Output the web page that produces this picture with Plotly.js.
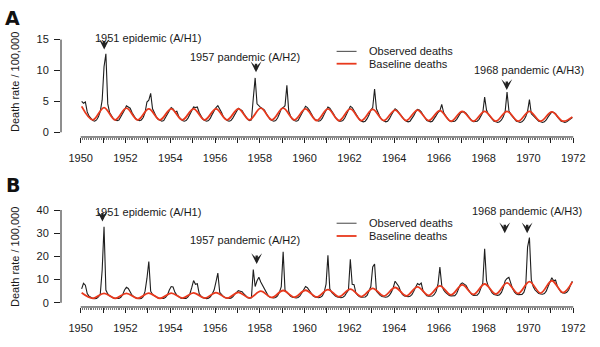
<!DOCTYPE html>
<html><head><meta charset="utf-8">
<script src="https://cdn.plot.ly/plotly-3.0.1.min.js"></script>
<style>html,body{margin:0;padding:0;background:#fff}#chart{width:600px;height:347px}</style>
</head><body><div id="chart"></div>
<script>
// ---- data ----
const years = [1950,1951,1952,1953,1954,1955,1956,1957,1958,1959,1960,1961,1962,1963,1964,1965,1966,1967,1968,1969,1970,1971];
const tickYears = [1950,1951,1952,1953,1954,1955,1956,1957,1958,1959,1960,1961,1962,1963,1964,1965,1966,1967,1968,1969,1970,1971,1972];
const tickLabels = ['1950','','1952','','1954','','1956','','1958','','1960','','1962','','1964','','1966','','1968','','1970','','1972'];

// Panel A – observed monthly death rate (Jan..Dec per year)
const observedA = [
  5.0,4.7,4.9,3.3,2.6,2.2,1.9,1.8,2.0,2.5,3.4,5.2,
  10.6,12.7,4.6,3.2,2.6,2.2,2.0,1.9,2.0,2.5,3.0,3.6,
  4.3,4.1,3.9,3.2,2.6,2.2,2.0,1.9,2.0,2.4,3.2,4.9,
  5.2,6.3,3.8,3.0,2.5,2.1,1.9,1.8,1.9,2.4,3.0,3.6,
  4.0,3.8,3.3,3.4,2.6,2.2,1.9,1.8,1.9,2.3,2.9,3.5,
  4.1,4.0,4.1,3.2,2.6,2.1,1.9,1.8,1.9,2.3,2.9,3.6,
  4.0,4.3,3.8,3.2,2.5,2.1,1.9,1.8,1.9,2.3,2.9,3.5,
  3.9,3.7,3.5,3.0,2.5,2.1,1.9,2.0,5.5,8.8,4.6,4.2,
  4.0,3.8,3.6,3.0,2.5,2.1,1.9,1.8,1.9,2.3,3.0,3.8,
  4.0,4.3,7.6,3.4,2.6,2.1,1.9,1.8,1.9,2.4,3.0,3.6,
  4.2,4.0,3.6,3.0,2.5,2.1,1.9,1.8,1.9,2.3,2.9,3.6,
  4.1,3.9,3.5,3.0,2.4,2.0,1.8,1.8,1.9,2.3,2.9,3.6,
  4.2,4.0,3.5,2.9,2.4,2.0,1.8,1.7,1.8,2.2,2.8,3.6,
  4.0,7.0,3.8,3.0,2.4,2.0,1.8,1.7,1.8,2.2,2.8,3.4,
  3.8,3.6,3.2,2.7,2.3,2.0,1.8,1.7,1.8,2.2,2.7,3.3,
  3.7,3.6,3.3,2.8,2.3,1.9,1.8,1.7,1.8,2.2,2.7,3.2,
  3.5,4.5,3.2,2.7,2.2,1.9,1.7,1.7,1.8,2.1,2.6,3.1,
  3.3,3.3,3.1,2.7,2.2,1.9,1.7,1.7,1.8,2.1,2.6,3.2,
  5.7,3.6,2.9,2.5,2.1,1.8,1.7,1.6,1.7,2.0,2.5,3.4,
  6.5,3.5,2.9,2.5,2.1,1.8,1.7,1.6,1.7,2.0,2.5,3.4,
  5.3,3.0,2.7,2.4,2.0,1.8,1.7,1.6,1.7,2.0,2.5,3.0,
  3.3,3.2,3.0,2.5,2.1,1.8,1.7,1.6,1.7,1.9,2.2,2.4
];
// Panel A – baseline: winter peak (Jan) and summer trough (Jul) per year, value at end
const baselinePeakA   = [4.2,4.0,3.9,3.8,3.8,3.8,3.8,3.8,3.9,3.9,3.8,3.8,3.8,3.7,3.6,3.6,3.5,3.4,3.4,3.4,3.4,3.3];
const baselineTroughA = [2.0,2.0,2.0,2.0,2.0,2.0,2.0,2.0,2.0,2.0,1.9,1.9,1.9,1.9,1.9,1.9,1.8,1.8,1.8,1.8,1.8,1.8];
const baselineEndA = 2.5;

// Panel B – observed monthly death rate
const observedB = [
  6.0,8.4,7.6,4.0,2.8,2.2,1.9,1.8,1.9,2.5,3.8,14.0,
  32.8,5.5,3.8,3.0,2.5,2.1,1.9,1.8,1.9,2.4,3.5,5.5,
  6.7,6.2,4.5,3.3,2.6,2.1,1.9,1.8,1.9,2.6,5.0,10.5,
  17.8,5.0,3.6,3.0,2.5,2.1,1.9,1.8,1.9,2.4,3.4,5.5,
  7.0,6.8,4.5,3.3,2.6,2.1,1.9,1.8,1.9,2.5,3.8,6.5,
  9.6,8.0,8.2,4.0,2.8,2.2,1.9,1.8,2.0,2.6,3.8,5.5,
  9.0,12.8,4.5,3.5,2.7,2.2,1.9,1.9,2.0,2.6,3.6,4.5,
  5.2,5.0,4.8,3.8,2.8,2.2,2.0,2.2,14.3,7.0,9.5,11.0,
  9.0,7.5,6.5,4.5,3.0,2.4,2.2,2.1,2.3,3.0,4.5,7.0,
  22.0,5.5,4.5,3.5,2.8,2.4,2.2,2.1,2.3,3.0,4.2,5.5,
  7.0,6.5,5.2,4.0,3.0,2.5,2.3,2.2,2.4,3.0,4.5,8.0,
  20.5,6.0,4.5,3.6,2.9,2.5,2.3,2.2,2.4,3.0,4.3,5.5,
  18.8,8.0,7.8,4.2,3.2,2.6,2.4,2.3,2.5,3.2,5.0,7.0,
  15.5,16.7,5.0,4.0,3.2,2.7,2.5,2.4,2.6,3.3,4.6,6.5,
  9.3,8.0,7.0,4.8,3.5,2.9,2.7,2.6,2.8,3.5,5.0,7.0,
  8.3,7.8,8.5,5.0,3.7,3.0,2.8,2.7,2.9,3.6,5.0,8.0,
  15.4,7.5,5.5,4.5,3.8,3.2,3.0,2.9,3.1,4.0,6.0,8.0,
  8.6,8.2,7.5,6.0,4.5,3.6,3.2,3.1,3.3,4.2,6.0,8.5,
  23.3,9.5,7.0,5.5,4.3,3.6,3.3,3.2,3.5,4.5,6.5,9.5,
  10.5,11.0,8.5,6.0,4.6,3.8,3.5,3.4,3.6,4.5,7.0,24.0,
  28.1,10.0,7.0,5.5,4.6,4.0,3.8,3.7,4.0,5.0,7.0,9.0,
  10.8,9.5,9.8,7.0,5.5,4.5,4.2,4.1,4.5,5.5,7.5,9.3
];
const baselinePeakB   = [4.3,4.1,4.1,4.2,4.2,4.3,4.4,4.5,5.0,5.3,5.4,5.7,5.9,6.2,6.6,6.9,7.3,7.7,8.1,8.6,9.1,9.5];
const baselineTroughB = [1.9,1.9,1.9,1.9,2.0,2.0,2.0,2.1,2.3,2.4,2.5,2.6,2.7,2.9,3.0,3.2,3.4,3.6,3.8,4.0,4.2,4.4];
const baselineEndB = 9.0;

// ---- build ----
const monthX = [];
years.forEach(y => { for (let m = 0; m < 12; m++) monthX.push(y + (m + 0.5) / 12); });
function baselineSeries(peaks, troughs, endVal) {
  const x = [], y = [];
  years.forEach((yr, i) => {
    x.push(yr + 0.5 / 12); y.push(peaks[i]);
    x.push(yr + 6.5 / 12); y.push(troughs[i]);
  });
  x.push(years[years.length - 1] + 11.5 / 12); y.push(endVal);
  return {x, y};
}
const bA = baselineSeries(baselinePeakA, baselineTroughA, baselineEndA);
const bB = baselineSeries(baselinePeakB, baselineTroughB, baselineEndB);
const minorVals = [];
for (let y = tickYears[0]; y < tickYears[tickYears.length - 1]; y++) for (let m = 1; m < 12; m++) minorVals.push(y + m / 12);

const BLACK = '#1e1e1e', RED = '#e8391d', TXT = '#1a1a1a';
const FONT = 'Arial, "Liberation Sans", Helvetica, sans-serif';

const traces = [
  {x: monthX, y: observedA, xaxis: 'x', yaxis: 'y', mode: 'lines', name: 'Observed deaths', line: {color: BLACK, width: 1.1}},
  {x: bA.x, y: bA.y, xaxis: 'x', yaxis: 'y', mode: 'lines', name: 'Baseline deaths', line: {color: RED, width: 1.8, shape: 'spline', smoothing: 1}},
  {x: monthX, y: observedB, xaxis: 'x2', yaxis: 'y2', mode: 'lines', name: 'Observed deaths', line: {color: BLACK, width: 1.1}},
  {x: bB.x, y: bB.y, xaxis: 'x2', yaxis: 'y2', mode: 'lines', name: 'Baseline deaths', line: {color: RED, width: 1.8, shape: 'spline', smoothing: 1}}
];

const XR = [1949.12, 1972.97];
function xAxis(anchor) {
  return {
    domain: [0, 1], anchor: anchor, range: XR, showgrid: false, zeroline: false, showline: false,
    tickmode: 'array', tickvals: tickYears, ticktext: tickLabels,
    ticks: 'outside', ticklen: 5, tickwidth: 1, tickcolor: BLACK,
    tickfont: {family: FONT, size: 11, color: TXT}, ticklabelstandoff: 6,
    minor: {tickmode: 'array', tickvals: minorVals, ticks: 'outside', ticklen: 2, tickwidth: 1, tickcolor: '#777', showgrid: false}
  };
}
function yAxis(anchor, domain, range, vals) {
  return {
    domain: domain, anchor: anchor, range: range, showgrid: false, zeroline: false, showline: false,
    tickmode: 'array', tickvals: vals, ticks: 'outside', ticklen: 6, tickwidth: 1, tickcolor: BLACK,
    tickfont: {family: FONT, size: 11, color: TXT}, ticklabelstandoff: 3
  };
}

const shapes = [
  // detached R-style axis lines
  {type: 'line', xref: 'paper', yref: 'y', x0: 0, x1: 0, y0: 0, y1: 15, line: {color: BLACK, width: 1}},
  {type: 'line', xref: 'x', yref: 'y domain', x0: tickYears[0], x1: tickYears[tickYears.length-1], y0: 0, y1: 0, line: {color: BLACK, width: 1}},
  {type: 'line', xref: 'paper', yref: 'y2', x0: 0, x1: 0, y0: 0, y1: 40, line: {color: BLACK, width: 1}},
  {type: 'line', xref: 'x2', yref: 'y2 domain', x0: tickYears[0], x1: tickYears[tickYears.length-1], y0: 0, y1: 0, line: {color: BLACK, width: 1}},
  // legend samples
  {type: 'line', xref: 'x', yref: 'y', x0: 1961.43, x1: 1962.32, y0: 13.1, y1: 13.1, line: {color: '#444', width: 1}},
  {type: 'line', xref: 'x', yref: 'y', x0: 1961.43, x1: 1962.32, y0: 11.1, y1: 11.1, line: {color: RED, width: 1.8}},
  {type: 'line', xref: 'x2', yref: 'y2', x0: 1961.43, x1: 1962.32, y0: 34.3, y1: 34.3, line: {color: '#444', width: 1}},
  {type: 'line', xref: 'x2', yref: 'y2', x0: 1961.43, x1: 1962.32, y0: 28.8, y1: 28.8, line: {color: RED, width: 1.8}}
];

const tf = {family: FONT, size: 11, color: TXT};
function label(text, x, y, xr, yr, anchor) {
  return {text: text, x: x, y: y, xref: xr, yref: yr, showarrow: false, font: tf, xanchor: anchor || 'center', yanchor: 'middle'};
}
function arrow(x, y, xr, yr) {
  return {text: '', x: x, y: y, xref: xr, yref: yr, showarrow: true, arrowhead: 3, arrowsize: 0.75, arrowwidth: 2.4,
          arrowcolor: '#222', ax: 0, ay: -10, standoff: 0};
}
const annotations = [
  label('1951 epidemic (A/H1)', 1953.0, 15.3, 'x', 'y'),
  label('1957 pandemic (A/H2)', 1957.32, 12.2, 'x', 'y'),
  label('1968 pandemic (A/H3)', 1970.01, 10.1, 'x', 'y'),
  arrow(1951.05, 13.4, 'x', 'y'),
  arrow(1957.83, 9.7, 'x', 'y'),
  arrow(1969.03, 6.85, 'x', 'y'),
  label('Observed deaths', 1962.8, 13.1, 'x', 'y', 'left'),
  label('Baseline deaths', 1962.8, 11.1, 'x', 'y', 'left'),

  label('1951 epidemic (A/H1)', 1953.0, 39.3, 'x2', 'y2'),
  label('1957 pandemic (A/H2)', 1957.32, 27.1, 'x2', 'y2'),
  label('1968 pandemic (A/H3)', 1969.95, 39.7, 'x2', 'y2'),
  arrow(1950.97, 35.0, 'x2', 'y2'),
  arrow(1957.86, 16.7, 'x2', 'y2'),
  arrow(1968.94, 30.0, 'x2', 'y2'),
  arrow(1969.94, 30.0, 'x2', 'y2'),
  label('Observed deaths', 1962.8, 34.3, 'x2', 'y2', 'left'),
  label('Baseline deaths', 1962.8, 28.8, 'x2', 'y2', 'left'),

  {text: 'Death rate / 100,000', textangle: -90, x: -0.0861, y: 0.7637, xref: 'paper', yref: 'paper', showarrow: false, font: tf, xanchor: 'center', yanchor: 'middle'},
  {text: 'Death rate / 100,000', textangle: -90, x: -0.0861, y: 0.2594, xref: 'paper', yref: 'paper', showarrow: false, font: tf, xanchor: 'center', yanchor: 'middle'},
  {text: '<b>A</b>', x: -0.0908, y: 0.9481, xref: 'paper', yref: 'paper', showarrow: false, font: {family: '"DejaVu Sans", Arial, sans-serif', size: 19, color: '#111'}, xanchor: 'center', yanchor: 'middle'},
  {text: '<b>B</b>', x: -0.0899, y: 0.4669, xref: 'paper', yref: 'paper', showarrow: false, font: {family: '"DejaVu Sans", Arial, sans-serif', size: 19, color: '#111'}, xanchor: 'center', yanchor: 'middle'}
];

const layout = {
  width: 600, height: 347,
  margin: {l: 61, r: 5, t: 0, b: 0},
  paper_bgcolor: '#fff', plot_bgcolor: '#fff',
  showlegend: false,
  font: {family: FONT, size: 11, color: TXT},
  xaxis: xAxis('y'),
  yaxis: yAxis('x', [0.6052, 0.9856], [-0.76, 20.6], [0, 5, 10, 15]),
  xaxis2: xAxis('y2'),
  yaxis2: yAxis('x2', [0.1153, 0.4957], [-1.81, 55.1], [0, 10, 20, 30, 40]),
  shapes: shapes,
  annotations: annotations
};

Plotly.newPlot('chart', traces, layout, {displayModeBar: false, staticPlot: true});
</script>
</body></html>
